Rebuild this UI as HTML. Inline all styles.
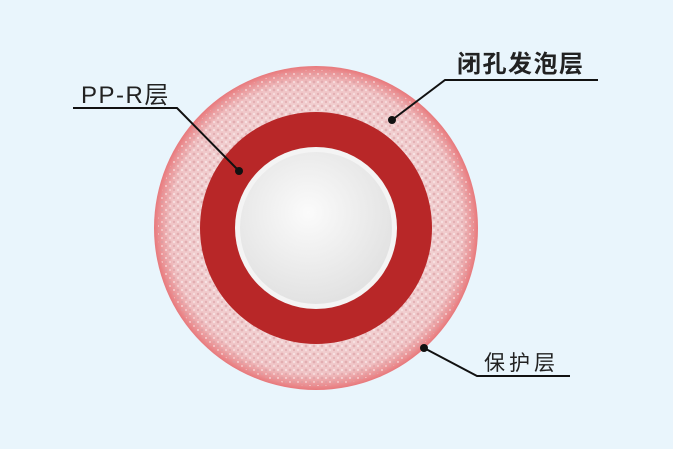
<!DOCTYPE html>
<html><head><meta charset="utf-8"><style>
html,body{margin:0;padding:0;background:#e9f5fc;}
svg{display:block}
text{font-family:"Liberation Sans","Noto Sans CJK SC",sans-serif;fill:#222}
</style></head><body>
<svg width="673" height="449" viewBox="0 0 673 449">
<defs>
<radialGradient id="foam" cx="50%" cy="50%" r="50%">
<stop offset="0.7" stop-color="#f1d2d3"/>
<stop offset="0.9" stop-color="#f0c4c6"/>
<stop offset="1" stop-color="#e8797c"/>
</radialGradient>
<radialGradient id="core" cx="45%" cy="40%" r="60%">
<stop offset="0" stop-color="#fbfbfb"/>
<stop offset="1" stop-color="#e2e2e2"/>
</radialGradient>
<pattern id="cells" width="8" height="8" patternUnits="userSpaceOnUse">
<circle cx="2" cy="2" r="1.4" fill="#d99ba0" opacity="0.6"/>
<circle cx="6" cy="6" r="1.2" fill="#d99ba0" opacity="0.55"/>
<circle cx="6" cy="2" r="0.9" fill="#fff" opacity="0.7"/>
<circle cx="2" cy="6" r="0.9" fill="#fff" opacity="0.6"/>
</pattern>
</defs>
<circle cx="316" cy="228" r="162" fill="url(#foam)"/>
<circle cx="316" cy="228" r="158" fill="url(#cells)"/>
<circle cx="316" cy="228" r="116" fill="#b82728"/>
<circle cx="316" cy="228" r="81" fill="#f4f4f4"/>
<circle cx="316" cy="228" r="76" fill="url(#core)"/>
<g stroke="#111" stroke-width="2" fill="none">
<polyline points="73,108 177,108 239,171"/>
<polyline points="598,80 445,80 392,120"/>
<polyline points="570,376 477,376 424,348"/>
</g>
<circle cx="239" cy="171" r="4" fill="#111"/>
<circle cx="392" cy="120" r="4" fill="#111"/>
<circle cx="424" cy="348" r="4" fill="#111"/>
<text x="81" y="103" font-size="24" letter-spacing="1.5">PP-R层</text>
<text x="457" y="72" font-size="24" font-weight="bold" letter-spacing="1.5">闭孔发泡层</text>
<text x="484" y="370" font-size="21" letter-spacing="4">保护层</text>
</svg>
</body></html>
